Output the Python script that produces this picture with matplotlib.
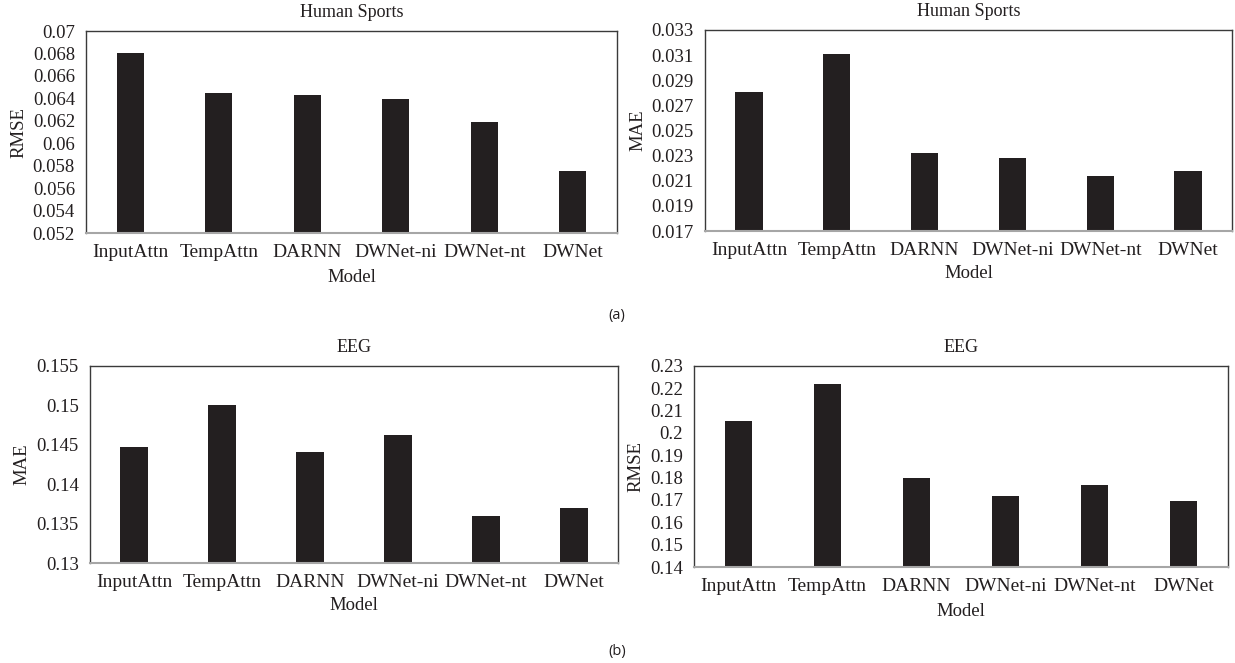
import matplotlib
matplotlib.use("Agg")
import matplotlib.pyplot as plt
import numpy as np
from matplotlib.ticker import FixedLocator, FuncFormatter

plt.rcParams["font.family"] = ["Liberation Serif", "DejaVu Serif"]

models = ["InputAttn", "TempAttn", "DARNN", "DWNet-ni", "DWNet-nt", "DWNet"]

# Human Sports
hs_rmse = [0.0680, 0.0645, 0.0643, 0.0639, 0.0619, 0.0575]
hs_mae = [0.0281, 0.0311, 0.0232, 0.0228, 0.0214, 0.0218]
# EEG
eeg_mae = [0.1447, 0.1500, 0.1441, 0.1463, 0.1360, 0.1370]
eeg_rmse = [0.2054, 0.2220, 0.1799, 0.1719, 0.1768, 0.1697]

W, H = 1235, 663
fig = plt.figure(figsize=(W / 100, H / 100), dpi=100)

# (title, ylabel, values, ylim, step, axes box in px: left, top, right, bottom,
#  ylabel x offset px, xlabel y offset px)
panels = [
    ("Human Sports", "RMSE", hs_rmse, (0.052, 0.070), 0.002, (86, 31, 617, 233), -67, 44),
    ("Human Sports", "MAE", hs_mae, (0.017, 0.033), 0.002, (705, 30, 1232, 231), -67, 42),
    ("EEG", "MAE", eeg_mae, (0.130, 0.155), 0.005, (90, 366, 618, 563), -68, 43),
    ("EEG", "RMSE", eeg_rmse, (0.140, 0.230), 0.010, (694, 366, 1228, 567), -58, 44),
]

bar_color = "#231f20"

for title, ylab, vals, ylim, step, box, ylx, xly in panels:
    l, t, r, b = box
    ax = fig.add_axes([l / W, 1 - b / H, (r - l) / W, (b - t) / H])
    ax.bar(range(len(models)), vals, width=0.31, color=bar_color, zorder=2)
    ax.set_xlim(-0.5, len(models) - 0.5)
    ax.set_ylim(*ylim)
    ticks = np.arange(ylim[0], ylim[1] + step / 2, step)
    ax.yaxis.set_major_locator(FixedLocator(ticks))
    ax.yaxis.set_major_formatter(FuncFormatter(lambda v, p: f"{v:.4g}"))
    ax.set_xticks(range(len(models)))
    ax.set_xticklabels(models)
    ax.tick_params(axis="both", length=0, colors="#231f20")
    ax.tick_params(axis="y", pad=8, labelsize=13.5)
    ax.tick_params(axis="x", pad=8, labelsize=14)
    for side in ["top", "right", "left"]:
        ax.spines[side].set_color("#3a3a3a")
        ax.spines[side].set_linewidth(1.0)
    ax.spines["bottom"].set_color("#a6a6a6")
    ax.spines["bottom"].set_linewidth(1.5)
    ax.set_title(title, fontsize=13, pad=10, color="#231f20")
    ax.set_ylabel(ylab, fontsize=13.5, va="center", color="#231f20")
    ax.set_xlabel("Model", fontsize=13.5, va="center", color="#231f20")
    ax.yaxis.set_label_coords(ylx / (r - l), 0.5)
    ax.xaxis.set_label_coords(0.5, -xly / (b - t))

fig.text(617 / W, 1 - 315 / H, "(a)", ha="center", va="center",
         fontsize=10.5, family=["Open Sans", "DejaVu Sans"], color="#231f20")
fig.text(617 / W, 1 - 651 / H, "(b)", ha="center", va="center",
         fontsize=10.5, family=["Open Sans", "DejaVu Sans"], color="#231f20")

fig.savefig("out.png", dpi=100)
